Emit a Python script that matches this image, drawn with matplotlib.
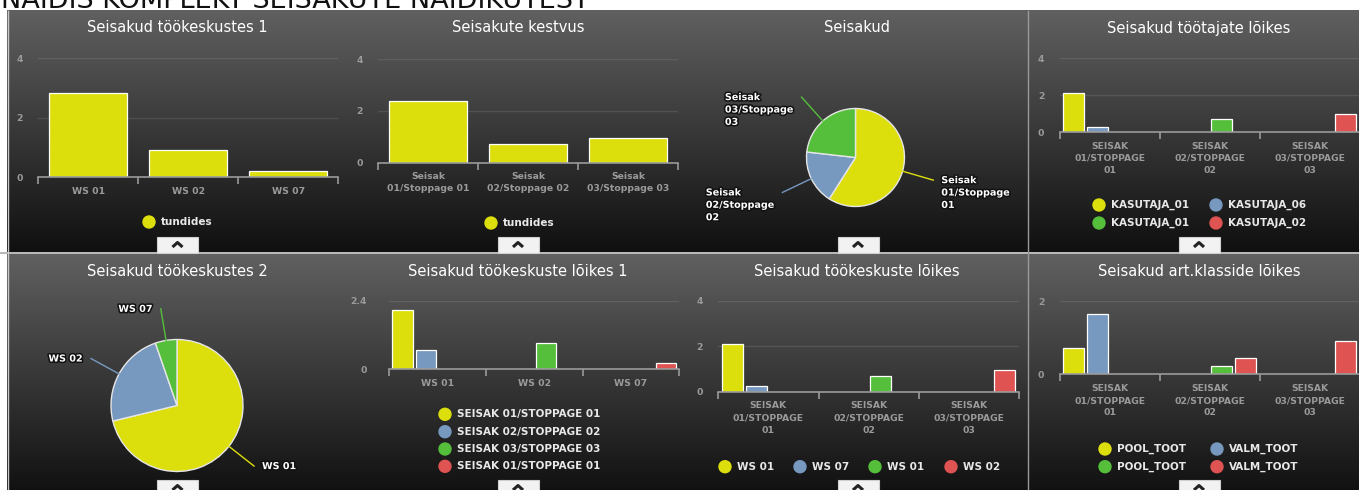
import numpy as np
import matplotlib
matplotlib.use("Agg")
import matplotlib.pyplot as plt
from matplotlib.patches import Rectangle, Circle
import matplotlib.patheffects as pe

plt.rcParams['font.family'] = ['DejaVu Sans']

# ---------------- data ----------------
page_title = "NÄIDIS KOMPLEKT SEISAKUTE NÄIDIKUTEST"

ws_categories = ['WS 01', 'WS 02', 'WS 07']
ws_hours = [2.82, 0.93, 0.21]

stop_categories = ['Seisak\n01/Stoppage 01', 'Seisak\n02/Stoppage 02', 'Seisak\n03/Stoppage 03']
stop_hours = [2.39, 0.72, 0.94]
stop_pie_labels = ['Seisak\n01/Stoppage\n01', 'Seisak\n02/Stoppage\n02', 'Seisak\n03/Stoppage\n03']
stop_upper_categories = ['SEISAK\n01/STOPPAGE\n01', 'SEISAK\n02/STOPPAGE\n02', 'SEISAK\n03/STOPPAGE\n03']

nan = np.nan
# Seisakud töötajate lõikes
worker_names = ['KASUTAJA_01', 'KASUTAJA_06', 'KASUTAJA_01', 'KASUTAJA_02']
worker_s1 = [2.14, nan, nan]
worker_s2 = [0.29, nan, nan]
worker_s3 = [nan, 0.69, nan]
worker_s4 = [nan, nan, 0.96]

# Seisakud töökeskuste lõikes 1
stop_names = ['SEISAK 01/STOPPAGE 01', 'SEISAK 02/STOPPAGE 02',
              'SEISAK 03/STOPPAGE 03', 'SEISAK 01/STOPPAGE 01']
wsstop_s1 = [2.09, nan, nan]
wsstop_s2 = [0.66, nan, nan]
wsstop_s3 = [nan, 0.91, nan]
wsstop_s4 = [nan, nan, 0.22]

# Seisakud töökeskuste lõikes
ws_names = ['WS 01', 'WS 07', 'WS 01', 'WS 02']
stopws_s1 = [2.10, nan, nan]
stopws_s2 = [0.27, nan, nan]
stopws_s3 = [nan, 0.69, nan]
stopws_s4 = [nan, nan, 0.94]

# Seisakud art.klasside lõikes
class_names = ['POOL_TOOT', 'VALM_TOOT', 'POOL_TOOT', 'VALM_TOOT']
class_s1 = [0.71, nan, nan]
class_s2 = [1.64, nan, nan]
class_s3 = [nan, 0.24, nan]
class_s4 = [nan, 0.44, 0.92]

COLORS = ['#DDDF0D', '#7798BF', '#55BF3B', '#DF5353']

# ---------------- figure ----------------
W, H = 1359, 490
fig = plt.figure(figsize=(W / 100, H / 100), dpi=100)
fig.patch.set_facecolor('white')

canvas = fig.add_axes([0, 0, 1, 1])
canvas.set_xlim(0, W)
canvas.set_ylim(H, 0)
canvas.axis('off')


def px_axes(x0, y0, x1, y1):
    return fig.add_axes([x0 / W, 1 - y1 / H, (x1 - x0) / W, (y1 - y0) / H])


# header (cut off at top, as in the reference)
canvas.text(1, 8.5, page_title, fontsize=19.5, color='#111111', ha='left', va='baseline')

# background gradients for the two rows
grad = np.linspace(0, 1, 256).reshape(-1, 1)
top_c = np.array([96, 96, 96]) / 255
bot_c = np.array([16, 16, 16]) / 255
img = top_c[None, None, :] * (1 - grad[:, :, None]) + bot_c[None, None, :] * grad[:, :, None]
canvas.imshow(img, extent=[7, W, 252, 11], aspect='auto', origin='upper', zorder=0)
canvas.imshow(img, extent=[7, W, 495, 254], aspect='auto', origin='upper', zorder=0)
canvas.set_xlim(0, W)
canvas.set_ylim(H, 0)
canvas.add_patch(Rectangle((0, 252), W, 2, color='#b8b8b8', zorder=1, lw=0))
canvas.plot([7.5, 7.5], [11, H], color='#c8c8c8', lw=1, zorder=1)
canvas.plot([1028, 1028], [11, H], color='#9a9a9a', lw=1, zorder=1)

# titles
titles = [(177, 28, 'Seisakud töökeskustes 1'), (518, 28, 'Seisakute kestvus'),
          (857, 28, 'Seisakud'), (1199, 28, 'Seisakud töötajate lõikes'),
          (177, 271, 'Seisakud töökeskustes 2'), (518, 271, 'Seisakud töökeskuste lõikes 1'),
          (857, 271, 'Seisakud töökeskuste lõikes'), (1199, 271, 'Seisakud art.klasside lõikes')]
for x, y, t in titles:
    canvas.text(x, y, t, color='white', fontsize=10.5, ha='center', va='center', zorder=3)

# collapse tabs
for row_y in (237, 480):
    for cx in (177.5, 518, 858, 1199):
        canvas.add_patch(Rectangle((cx - 20.5, row_y), 41, 16, facecolor='#f2f2f2',
                                   edgecolor='#cfcfcf', lw=0.8, zorder=4))
        canvas.plot([cx - 5, cx, cx + 5], [row_y + 10, row_y + 5.5, row_y + 10],
                    color='#222222', lw=2.2, solid_capstyle='butt', zorder=5)


def legend_item(xd, y, color, text):
    canvas.add_patch(Circle((xd, y), 6, color=color, zorder=3))
    canvas.text(xd + 12, y, text, color='#e8e8e8', fontsize=7.5, fontweight='bold',
                ha='left', va='center', zorder=3)


LABEL_KW = dict(color='#9a9a9a', fontsize=6.7, fontweight='bold')


def bar_panel(x0, x1, y_zero, y_top, ymax, yticks, ylabels, cats, series, width,
              offsets, ypad=11, linespacing=1.45):
    ax = px_axes(x0, y_top, x1, y_zero)
    ax.patch.set_visible(False)
    n = len(cats)
    x = np.arange(n)
    for vals, c, off in zip(series, COLORS, offsets):
        ax.bar(x + off, vals, width=width, color=c, edgecolor='white', linewidth=0.9, zorder=3)
    ax.set_xlim(-0.5, n - 0.5)
    ax.set_ylim(0, ymax)
    for s in ('top', 'right', 'left'):
        ax.spines[s].set_visible(False)
    ax.spines['bottom'].set_color('#9a9a9a')
    ax.spines['bottom'].set_linewidth(1.2)
    ax.spines['bottom'].set_zorder(4)
    ax.set_yticks(yticks)
    ax.set_yticklabels(ylabels, **LABEL_KW)
    ax.tick_params(axis='y', length=0, pad=ypad)
    ax.set_axisbelow(True)
    ax.grid(axis='y', color='#ffffff', alpha=0.1, lw=1)
    ax.set_xticks(x)
    ax.set_xticklabels(cats, linespacing=linespacing, **LABEL_KW)
    ax.tick_params(axis='x', which='major', length=0, pad=7)
    ax.set_xticks(np.arange(n + 1) - 0.5, minor=True)
    ax.tick_params(axis='x', which='minor', length=5, width=1.2, color='#9a9a9a')
    for lab in ax.get_xticklabels():
        lab.set_clip_on(False)
    return ax


def pie_panel(cx, cy, r, values, labels, ext=32):
    R = r + 140
    ax = px_axes(cx - R, cy - R, cx + R, cy + R)
    wedges, _ = ax.pie(values, colors=COLORS[:len(values)], radius=r, startangle=90,
                       counterclock=False,
                       wedgeprops=dict(edgecolor='#e6e6e6', linewidth=1))
    ax.set_xlim(-R, R)
    ax.set_ylim(-R, R)
    ax.axis('off')
    for w, lab, c in zip(wedges, labels, COLORS):
        ang = np.deg2rad((w.theta1 + w.theta2) / 2)
        dx, dy = np.cos(ang), np.sin(ang)
        sx, sy = r * dx, r * dy
        ex, ey = (r + ext) * dx, (r + ext) * dy
        mx, my = (r + ext * 0.55) * dx, (r + ext * 0.55) * dy
        t = np.linspace(0, 1, 30)
        bx = (1 - t) ** 2 * sx + 2 * (1 - t) * t * mx + t ** 2 * ex
        by = (1 - t) ** 2 * sy + 2 * (1 - t) * t * my + t ** 2 * ey
        ax.plot(bx, by, color=c, lw=1, clip_on=False)
        if dx >= 0:
            tx, ha = ex + 8, 'left'
        else:
            tx, ha = ex - 8, 'right'
        txt = ax.text(tx, ey + 5, lab, ha=ha, va='top', multialignment='left',
                      color='white', fontsize=6.9, fontweight='bold', linespacing=1.3,
                      clip_on=False)
        txt.set_path_effects([pe.withStroke(linewidth=2.2, foreground='#111111')])
    return ax


group_off = [-0.36, -0.12, 0.12, 0.36]

# row 1
bar_panel(38.3, 338.3, 177.3, 58.3, 4, [0, 2, 4], ['0', '2', '4'], ws_categories,
          [ws_hours], 0.78, [0])
legend_item(149, 222, COLORS[0], 'tundides')

bar_panel(378.3, 678.3, 162.7, 59.3, 4, [0, 2, 4], ['0', '2', '4'], stop_categories,
          [stop_hours], 0.78, [0], linespacing=1.35)
legend_item(491, 223, COLORS[0], 'tundides')

pie_panel(855.5, 157.5, 49, stop_hours, stop_pie_labels)

bar_panel(1059.7, 1359.7, 132, 58.3, 4, [0, 2, 4], ['0', '2', '4'], stop_upper_categories,
          [worker_s1, worker_s2, worker_s3, worker_s4], 0.21, group_off)
legend_item(1099, 205, COLORS[0], worker_names[0])
legend_item(1216, 205, COLORS[1], worker_names[1])
legend_item(1099, 223, COLORS[2], worker_names[2])
legend_item(1216, 223, COLORS[3], worker_names[3])

# row 2
pie_panel(177, 405.5, 66, ws_hours, ws_categories)

bar_panel(389, 679.3, 369, 300.7, 2.4, [0, 2.4], ['0', '2.4'], ws_categories,
          [wsstop_s1, wsstop_s2, wsstop_s3, wsstop_s4], 0.21, group_off, ypad=16)
for i, (name, yy) in enumerate(zip(stop_names, [414.3, 431.7, 449, 466.3])):
    legend_item(445, yy, COLORS[i], name)

bar_panel(718.3, 1019, 391.7, 301, 4, [0, 2, 4], ['0', '2', '4'], stop_upper_categories,
          [stopws_s1, stopws_s2, stopws_s3, stopws_s4], 0.21, group_off)
for i, (name, xx) in enumerate(zip(ws_names, [725, 800, 875, 951])):
    legend_item(xx, 466.7, COLORS[i], name)

bar_panel(1059.7, 1359.7, 374.3, 301, 2, [0, 2], ['0', '2'], stop_upper_categories,
          [class_s1, class_s2, class_s3, class_s4], 0.21, group_off)
legend_item(1105, 449, COLORS[0], class_names[0])
legend_item(1217, 449, COLORS[1], class_names[1])
legend_item(1105, 466.7, COLORS[2], class_names[2])
legend_item(1217, 466.7, COLORS[3], class_names[3])

fig.savefig('out.png', dpi=100, facecolor='white')
